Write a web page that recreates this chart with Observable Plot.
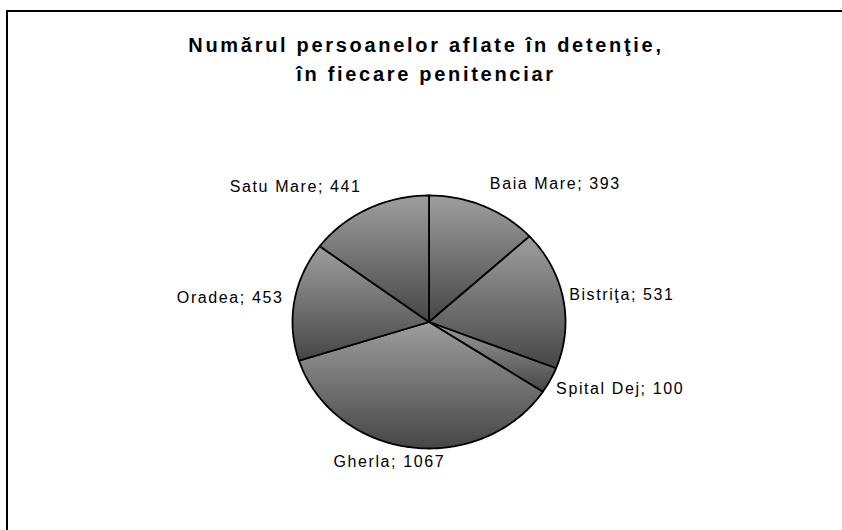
<!DOCTYPE html>
<html><head><meta charset="utf-8">
<script src="https://cdn.jsdelivr.net/npm/d3@7"></script>
<script src="https://cdn.jsdelivr.net/npm/@observablehq/plot@0.6"></script>
<style>
body{margin:0;background:#fff;overflow:hidden;width:842px;height:530px;}
#frame{position:absolute;left:6px;top:10px;width:840px;height:540px;border:2px solid #000;box-sizing:border-box;font-family:Arial,"Liberation Sans",sans-serif;overflow:hidden;}
#title{padding-top:19px;text-align:center;font-weight:bold;font-size:20px;line-height:29px;letter-spacing:2.7px;height:58px;color:#000;}
#chart svg text{letter-spacing:1.6px}
</style></head><body>
<div id="frame"><div id="title">Numărul persoanelor aflate în detenţie,<br>în fiecare penitenciar</div><div id="chart"></div></div>
<script>
const categories = ["Baia Mare", "Bistriţa", "Spital Dej", "Gherla", "Oradea", "Satu Mare"];
const values = [393, 531, 100, 1067, 453, 441];

const Rx = 136.5, Ry = 126.5, cx = 420.5, cy = 232.5;
const arcs = d3.pie().sort(null).value(d => d)(values);

// slice outlines in data units (unit circle), clockwise from 12 o'clock
const slicePts = [];
arcs.forEach((a, i) => {
  const name = categories[i];
  slicePts.push({name, x: 0, y: 0});
  const n = Math.max(2, Math.ceil((a.endAngle - a.startAngle) / (Math.PI / 180)));
  for (let k = 0; k <= n; k++) {
    const t = a.startAngle + (a.endAngle - a.startAngle) * k / n;
    slicePts.push({name, x: Math.sin(t), y: Math.cos(t)});
  }
  slicePts.push({name, x: 0, y: 0});
});

const ctx = document.createElement("canvas").getContext("2d");
ctx.font = "16px Arial, 'Liberation Sans', sans-serif";
const measure = s => ctx.measureText(s).width + 1.6 * s.length;

const labels = arcs.map((a, i) => {
  const th = (a.startAngle + a.endAngle) / 2;
  const text = `${categories[i]}; ${values[i]}`;
  const w = measure(text);
  const s = Math.max(-1, Math.min(1, Math.sin(th) / 0.4));
  const gy = 20 + 5 * Math.cos(th);
  const gx = 6 + 6 * Math.max(0, -Math.sin(th)) * (1 - Math.abs(Math.cos(th)));
  const px = Rx * Math.sin(th) + s * (w / 2 + gx);
  const py = (Ry + gy) * Math.cos(th);
  return {x: px / Rx, y: py / Ry, text};
});

const plot = Plot.plot({
  width: 836, height: 445, margin: 0,
  x: {domain: [-1, 1], range: [cx - Rx, cx + Rx], axis: null},
  y: {domain: [-1, 1], range: [cy + Ry, cy - Ry], axis: null},
  style: {fontFamily: "Arial, 'Liberation Sans', sans-serif", fontSize: "16px", background: "transparent", color: "#000"},
  marks: [
    Plot.line(slicePts, {x: "x", y: "y", z: "name", fill: "url(#sliceGrad)", stroke: "#000", strokeWidth: 1.8, strokeLinejoin: "round"}),
    Plot.text(labels, {x: "x", y: "y", text: "text", textAnchor: "middle", fill: "#000", fontSize: 16})
  ]
});
const defs = d3.select(plot).insert("defs", ":first-child");
const g = defs.append("linearGradient").attr("id", "sliceGrad").attr("x1", 0).attr("y1", 0).attr("x2", 0).attr("y2", 1);
g.append("stop").attr("offset", "0%").attr("stop-color", "#9e9e9e");
g.append("stop").attr("offset", "100%").attr("stop-color", "#464646");
document.getElementById("chart").appendChild(plot);
</script>
</body></html>
